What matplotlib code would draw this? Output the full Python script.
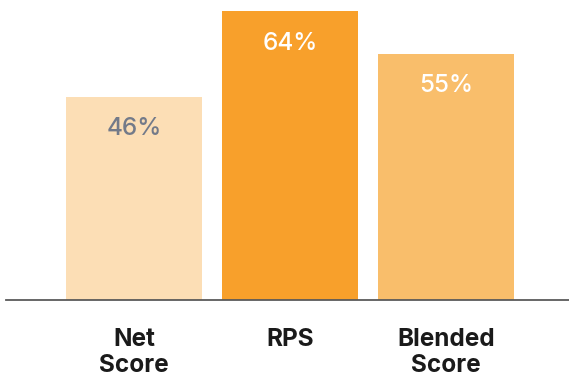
import matplotlib
matplotlib.use("Agg")
import matplotlib.pyplot as plt

categories = ["Net\nScore", "RPS", "Blended\nScore"]
values = [46, 64, 55]
labels = ["46%", "64%", "55%"]
colors = ["#FCDEB5", "#F8A02B", "#F9BE6B"]
label_colors = ["#737A89", "#FFFFFF", "#FFFFFF"]

plt.rcParams['font.family'] = ['Inter', 'DejaVu Sans']

fig = plt.figure(figsize=(5.69, 3.77), dpi=100)
ax = fig.add_axes([6/569, 77/377, 563/569, 300/377])

ybot = 3.5
k = 289 / (64 - ybot)  # px per unit
x = list(range(len(categories)))
bars = ax.bar(x, [v - ybot for v in values], bottom=ybot, width=136/156, color=colors, zorder=2)
ax.set_xlim(-(134-6)/156, 2 + (569-446)/156)
ax.set_ylim(ybot, ybot + 300 / k)

for b, v, lab, c in zip(bars, values, labels, label_colors):
    ax.text(b.get_x() + b.get_width()/2, v - 32 / k,
            lab, ha='center', va='center', color=c, fontsize=17.5, fontweight='medium')

for s in ['top', 'right', 'left']:
    ax.spines[s].set_visible(False)
ax.spines['bottom'].set_color('#5a5a5a')
ax.spines['bottom'].set_linewidth(1.3)
ax.set_yticks([])
ax.set_xticks(x)
ax.set_xticklabels(categories, fontsize=17.5, fontweight='bold', color='#1a1a1a', linespacing=1.2)
ax.tick_params(axis='x', length=0, pad=20)

fig.savefig("out.png", dpi=100)
